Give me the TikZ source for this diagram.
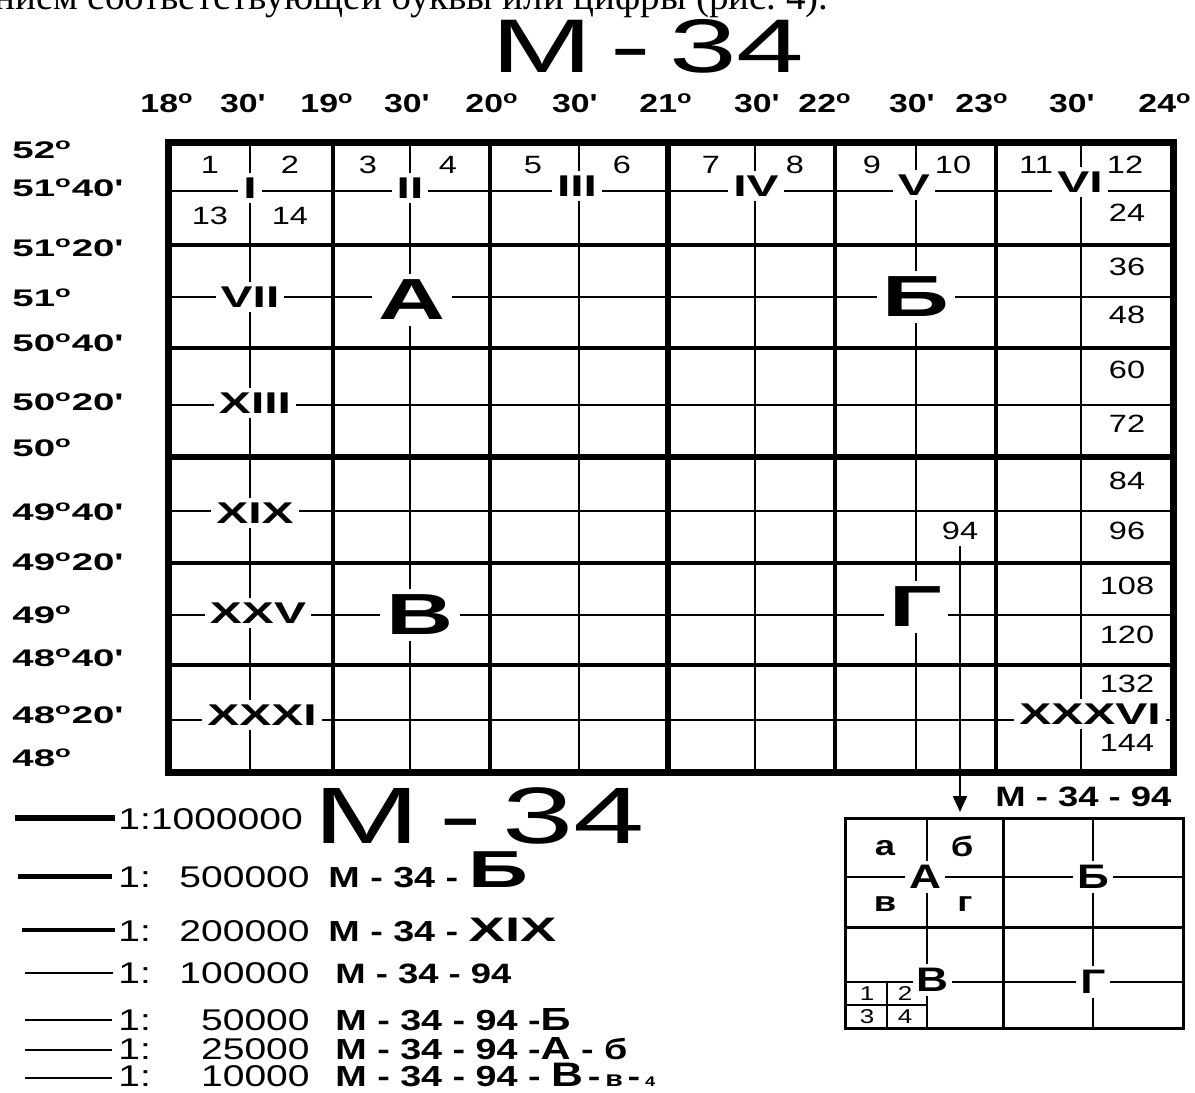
\documentclass[tikz,border=0pt]{standalone}
\usepackage{fontspec}
\setmainfont{Liberation Sans}[FakeStretch=1.3]
\newfontfamily\wb{Liberation Sans}[FakeStretch=1.6]
\newfontfamily\serifx{Liberation Serif}
\usetikzlibrary{arrows.meta}
\newcommand\dg{\textsuperscript{o}}
\newcommand\mn{\textquotesingle}
\newcommand\fs[1]{\fontsize{#1}{#1}\selectfont}
\begin{document}
\begin{tikzpicture}[x=0.5pt,y=-0.5pt,
  thinl/.style={line width=1pt},
  medl/.style={line width=1.8pt},
  thickl/.style={line width=2.6pt},
  framel/.style={line width=3.5pt},
  roman/.style={fill=white,inner sep=2.5pt,font=\wb\fs{15}\bfseries},
  bigl/.style={fill=white,inner sep=3pt,font=\wb\fs{29}\bfseries},
  num/.style={inner sep=0pt,font=\fs{12.5}},
  deg/.style={anchor=base,inner sep=0pt,font=\fs{13}\bfseries},
  lat/.style={anchor=base west,inner sep=0pt,font=\wb\fs{12}\bfseries},
  scl/.style={anchor=base west,inner sep=0pt,font=\fs{15}},
  sclr/.style={anchor=base east,inner sep=0pt,font=\fs{15}},
  desig/.style={anchor=base west,inner sep=0pt,font=\fs{14}\bfseries},
  desigb/.style={anchor=base west,inner sep=0pt,font=\fs{14.5}\bfseries},
  ilab/.style={fill=white,inner sep=2pt,font=\fs{17}\bfseries},
  ismall/.style={inner sep=0pt,font=\fs{14}\bfseries},
  itiny/.style={inner sep=0pt,font=\fs{10}},
  huge34/.style={anchor=base,inner sep=0pt,font=\wb\fs{38}},
]
\useasboundingbox (0,0) rectangle (1195,1093);

% cut-off line of text at the top
\node[anchor=base west,inner sep=0pt,font=\serifx\fs{19.5}] (toptext) at (-6,9)
  {нием соответствующей буквы или цифры (рис.~4).};

% title
\node[huge34] (title) at (648,72) {M\hspace{9pt}-\hspace{9pt}34};

% longitude labels
\foreach \t/\x [count=\i] in {18\dg/167,30\mn/242,19\dg/327,30\mn/406,20\dg/492,30\mn/574,
  21\dg/666,30\mn/756,22\dg/825,30\mn/911,23\dg/982,30\mn/1071,24\dg/1165}
  \node[deg] (lon\i) at (\x,112) {\t};

% latitude labels
\foreach \t/\y [count=\i] in {52\dg/158,51\dg40\mn/196,51\dg20\mn/256,51\dg/306,50\dg40\mn/351,
  50\dg20\mn/410,50\dg/456,49\dg40\mn/520,49\dg20\mn/570,49\dg/623,48\dg40\mn/666,
  48\dg20\mn/723,48\dg/766}
  \node[lat] (lat\i) at (12,\y) {\t};

% grid
\foreach \x in {250,410,579,755,916,1081} \draw[thinl] (\x,142) -- (\x,772);
\foreach \y in {191,297,405,511,615,720} \draw[thinl] (168,\y) -- (1173,\y);
\foreach \x in {333,490,835,996} \draw[medl] (\x,142) -- (\x,772);
\foreach \y in {245,348,563,665} \draw[medl] (168,\y) -- (1173,\y);
\draw[thickl] (668,142) -- (668,772);
\draw[thickl] (168,457) -- (1173,457);
\draw[framel] (168,142) rectangle (1173,772);

% roman numerals
\node[roman] (rI) at (250,188) {I};
\node[roman] (rII) at (410,188) {II};
\node[roman] (rIII) at (577,186) {III};
\node[roman] (rIV) at (756,186) {IV};
\node[roman] (rV) at (914,185) {V};
\node[roman] (rVI) at (1080,182) {VI};
\node[roman] (rVII) at (250,297) {VII};
\node[roman] (rXIII) at (255,403) {XIII};
\node[roman] (rXIX) at (255,513) {XIX};
\node[roman] (rXXV) at (258,613) {XXV};
\node[roman] (rXXXI) at (262,715) {XXXI};
\node[roman] (rXXXVI) at (1090,714) {XXXVI};

% 1:500000 letters
\node[bigl] (bA) at (412,300) {А};
\node[bigl] (bB) at (916,297) {Б};
\node[bigl] (bV) at (420,615) {В};
\node[bigl] (bG) at (916,607) {Г};

% sheet numbers
\foreach \n/\x in {1/210,2/290,3/368,4/448,5/533,6/622,7/711,8/795,9/872,10/953,11/1036,12/1125}
  \node[num] (t\n) at (\x,165) {\n};
\node[num] (t13) at (210,216) {13};
\node[num] (t14) at (290,216) {14};
\foreach \n/\y in {24/213,36/267,48/315,60/370,72/424,84/481,96/531,108/586,120/635,132/684,144/743}
  \node[num] (t\n) at (1127,\y) {\n};
\node[num,inner sep=3pt] (t94) at (960,531) {94};

% inset
\node[desig] (ititle) at (995,806) {M - 34 - 94};
\coordinate (tip) at (960,812);
\draw[line width=1pt,-{Triangle[length=8pt,width=7pt]}] (t94.south) -- (tip);

\draw[thinl] (927,818) -- (927,1028);
\draw[thinl] (1093,818) -- (1093,1028);
\draw[thinl] (845,877) -- (1183,877);
\draw[thinl] (845,982) -- (1183,982);
\draw[line width=1.5pt] (1003,818) -- (1003,1028);
\draw[line width=1.5pt] (845,927) -- (1183,927);
\draw[line width=1.5pt] (845,818) rectangle (1183,1028);
\node[ilab] (iA) at (925,877) {А};
\node[ilab] (iB) at (1093,877) {Б};
\node[ilab] (iV) at (932,980) {В};
\node[ilab] (iG) at (1093,982) {Г};
\node[ismall] (ia) at (885,848) {а};
\node[ismall] (ib) at (962,846) {б};
\node[ismall] (iv) at (885,904) {в};
\node[ismall] (ig) at (965,904) {г};
\draw[thinl] (845,982) -- (913,982);
\draw[thinl] (887,982) -- (887,1028);
\draw[thinl] (845,1005) -- (927,1005);
\draw[thinl] (927,1000) -- (927,1028);
\node[itiny] (q1) at (867,994) {1};
\node[itiny] (q2) at (905,994) {2};
\node[itiny] (q3) at (867,1017) {3};
\node[itiny] (q4) at (905,1017) {4};

% legend
\draw[line width=3pt] (15,818) -- (115,818);
\draw[line width=2.5pt] (18,876) -- (112,876);
\draw[line width=1.8pt] (22,930) -- (115,930);
\draw[line width=1.3pt] (25,973) -- (113,973);
\draw[line width=1.1pt] (25,1020) -- (112,1020);
\draw[line width=1pt] (25,1050) -- (112,1050);
\draw[line width=0.9pt] (25,1078) -- (112,1078);

\node[scl] (s1) at (118,829) {1:1000000};
\node[huge34,anchor=base west,font=\wb\fs{40}] (m1) at (313,843) {M\hspace{10pt}-\hspace{10pt}34};

\node[scl] (s2) at (118,887) {1:};
\node[sclr] (n2) at (310,887) {500000};
\node[desigb] (d2) at (328,887) {M - 34 - {\wb\fs{26}Б}};

\node[scl] (s3) at (118,941) {1:};
\node[sclr] (n3) at (310,941) {200000};
\node[desigb] (d3) at (328,941) {M - 34 - {\wb\fs{17}XIX}};

\node[scl] (s4) at (118,983) {1:};
\node[sclr] (n4) at (310,983) {100000};
\node[desig] (d4) at (335,983) {M - 34 - 94};

\node[scl] (s5) at (118,1030) {1:};
\node[sclr] (n5) at (310,1030) {50000};
\node[desigb] (d5) at (335,1030) {M - 34 - 94 -{\fs{16}Б}};

\node[scl] (s6) at (118,1059) {1:};
\node[sclr] (n6) at (310,1059) {25000};
\node[desigb] (d6) at (335,1059) {M - 34 - 94 -{\fs{16}А} - б};

\node[scl] (s7) at (118,1086) {1:};
\node[sclr] (n7) at (310,1086) {10000};
\node[desigb] (d7) at (335,1086) {M - 34 - 94 - {\fs{17}В}\,-\,{\fs{11}в}\,-\,{\fs{7}4}};
\end{tikzpicture}
\end{document}
